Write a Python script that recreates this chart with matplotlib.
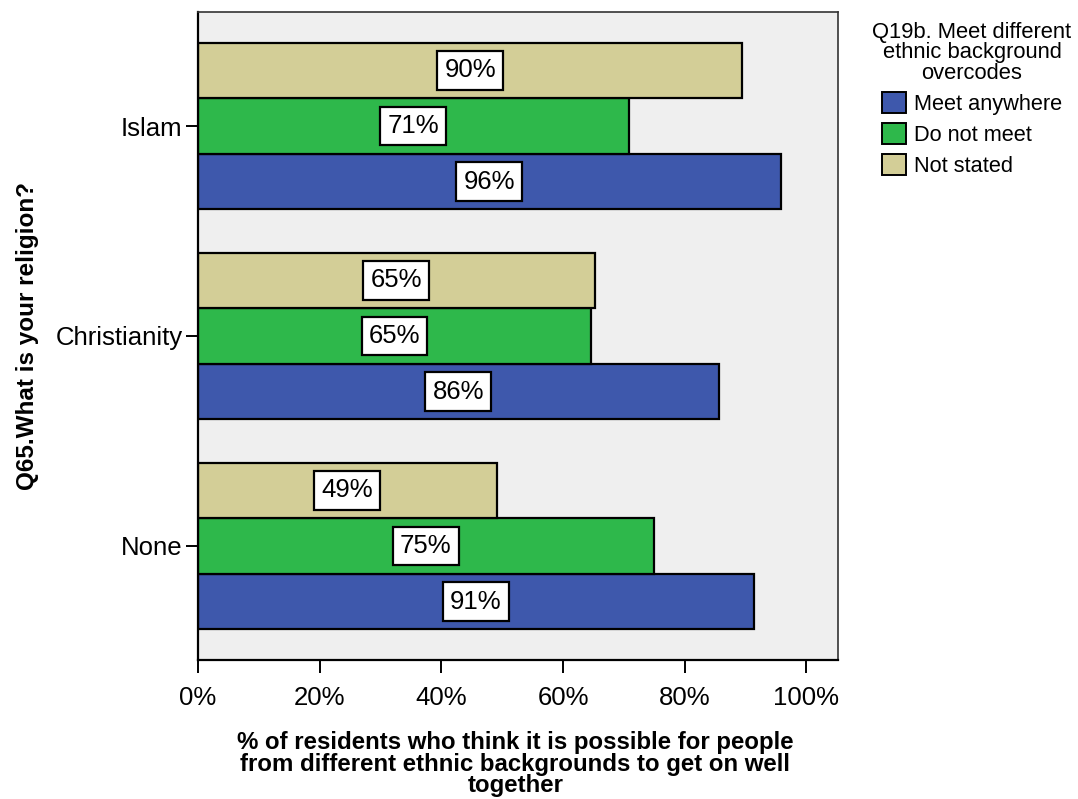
import matplotlib
matplotlib.use("Agg")
import matplotlib.pyplot as plt
from matplotlib.patches import Patch
import numpy as np

plt.rcParams['font.family'] = ['Liberation Sans', 'DejaVu Sans']

categories = ["None", "Christianity", "Islam"]
series_names = ["Meet anywhere", "Do not meet", "Not stated"]
meet_anywhere = [91.4, 85.6, 95.8]
do_not_meet = [74.9, 64.6, 70.8]
not_stated = [49.1, 65.2, 89.5]
colors = ["#3E58AC", "#2EB84B", "#D3CE97"]

fig = plt.figure(figsize=(10.78, 7.99), dpi=100)
ax = fig.add_axes([198/1078, 1-660/799, 640/1078, 648/799])
ax.set_facecolor("#EFEFEF")

y = np.arange(len(categories))
h = 0.265
offsets = [-h, 0, h]
for vals, off, col in zip([meet_anywhere, do_not_meet, not_stated], offsets, colors):
    bars = ax.barh(y + off, vals, height=h, color=col, edgecolor="black", linewidth=1.6)
    for b, v in zip(bars, vals):
        ax.text(v/2, b.get_y()+b.get_height()/2, f"{v:.0f}%", ha="center", va="center",
                fontsize=18.5, bbox=dict(boxstyle="square,pad=0.28", fc="white", ec="black", lw=1.6))

ax.set_xlim(0, 105.2)
ax.set_ylim(-0.543, 2.543)
ax.set_yticks(y)
ax.set_yticklabels(categories, fontsize=18.5)
ax.set_xticks([0, 20, 40, 60, 80, 100])
ax.set_xticklabels(["0%", "20%", "40%", "60%", "80%", "100%"], fontsize=18.5)
ax.tick_params(axis='both', length=9, width=1.4, colors="black")
ax.tick_params(axis='x', pad=10)
ax.tick_params(axis='y', pad=2)
for s in ax.spines.values():
    s.set_linewidth(1.2)
    s.set_color("#333333")
ax.spines['left'].set_linewidth(1.6)
ax.spines['bottom'].set_linewidth(1.6)
ax.spines['left'].set_color("black")
ax.spines['bottom'].set_color("black")

ax.set_ylabel("Q65.What is your religion?", fontsize=17.5, fontweight="bold")
ax.yaxis.set_label_coords(-0.249, 0.5)
ax.set_xlabel("% of residents who think it is possible for people\nfrom different ethnic backgrounds to get on well\ntogether",
              fontsize=17.3, fontweight="bold", linespacing=0.92, va="top")
ax.xaxis.set_label_coords(0.496, -0.110)

handles = [Patch(facecolor=c, edgecolor="black", lw=1.4) for c in colors]
leg = fig.legend(handles, series_names, title="Q19b. Meet different\nethnic background\novercodes",
                 loc="upper center", bbox_to_anchor=(972/1078, 1-19/799), frameon=False,
                 fontsize=15.7, title_fontsize=15.8, handlelength=1.1, handleheight=1.15,
                 handletextpad=0.4, labelspacing=0.36, borderpad=0.15, borderaxespad=0)
leg.get_title().set_multialignment("center")
leg.get_title().set_linespacing(0.95)

fig.savefig("out.png", dpi=100)
